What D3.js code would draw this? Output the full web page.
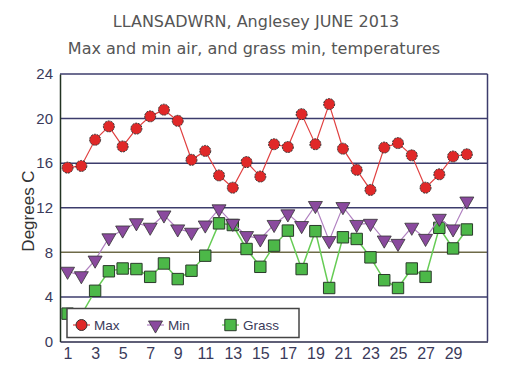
<!DOCTYPE html>
<html>
<head>
<meta charset="utf-8">
<script src="https://cdn.jsdelivr.net/npm/d3@7"></script>
<style>
  body { margin: 0; background: #fff; }
  svg { display: block; }
</style>
</head>
<body>
<svg id="chart" width="507" height="376"></svg>
<script>
// daily readings, June 2013
var days = d3.range(1, 31);
var maxTemp = [15.6, 15.75, 18.1, 19.3, 17.5, 19.1, 20.2, 20.8, 19.8, 16.3,
               17.1, 14.9, 13.8, 16.1, 14.8, 17.7, 17.45, 20.4, 17.7, 21.3,
               17.3, 15.4, 13.6, 17.4, 17.8, 16.7, 13.8, 15.0, 16.6, 16.8];
var minTemp = [6.3, 5.9, 7.3, 9.3, 10.0, 10.65, 10.25, 11.35, 10.1, 9.8,
               10.45, 11.9, 10.6, 9.5, 9.2, 10.5, 11.45, 10.4, 12.2, 9.05,
               12.1, 10.5, 10.6, 9.1, 8.8, 10.25, 9.25, 11.05, 10.1, 12.6];
var grassMin = [2.5, 2.4, 4.55, 6.3, 6.55, 6.5, 5.8, 7.0, 5.6, 6.35,
                7.7, 10.6, 10.45, 8.3, 6.7, 8.6, 9.95, 6.5, 9.9, 4.8,
                9.35, 9.2, 7.55, 5.5, 4.8, 6.55, 5.8, 10.2, 8.35, 10.05];
var yTicks = [0, 4, 8, 12, 16, 20, 24];
var xTicks = [1, 3, 5, 7, 9, 11, 13, 15, 17, 19, 21, 23, 25, 27, 29];

var svg = d3.select("#chart");

var plotLeft = 60, plotRight = 487.5, plotTop = 74, plotBottom = 341.5;

var x = d3.scaleLinear().domain([0.45, 31.5]).range([plotLeft, plotRight]);
var y = d3.scaleLinear().domain([0, 24]).range([plotBottom, plotTop]);

// titles
svg.append("text")
    .attr("x", 256)
    .attr("y", 27)
    .attr("text-anchor", "middle")
    .attr("font-family", "DejaVu Sans, Verdana, sans-serif")
    .attr("font-size", "16px")
    .attr("fill", "#555")
    .text("LLANSADWRN, Anglesey JUNE 2013");

svg.append("text")
    .attr("x", 254)
    .attr("y", 54)
    .attr("text-anchor", "middle")
    .attr("font-family", "DejaVu Sans, Verdana, sans-serif")
    .attr("font-size", "16px")
    .attr("fill", "#555")
    .text("Max and min air, and grass min, temperatures");

// gridlines
svg.append("g")
    .selectAll("line")
    .data(yTicks.filter(function (d) { return d > 0; }))
    .join("line")
    .attr("x1", plotLeft)
    .attr("x2", plotRight)
    .attr("y1", function (d) { return y(d); })
    .attr("y2", function (d) { return y(d); })
    .attr("stroke", function (d) { return d === 8 ? "#6e6a48" : "#3c3c6c"; })
    .attr("stroke-width", 1.5);

// y axis
var yAxis = svg.append("g")
    .attr("transform", "translate(" + plotLeft + ",0)")
    .call(d3.axisLeft(y).tickValues(yTicks).tickSize(0).tickPadding(7));
yAxis.select(".domain").attr("stroke", "#223322").attr("stroke-width", 1.5);
yAxis.selectAll("text")
    .attr("font-family", "Liberation Sans, Arial, sans-serif")
    .attr("font-size", "15px")
    .attr("fill", "#3a3a5a");

// x axis
var xAxis = svg.append("g")
    .attr("transform", "translate(0," + plotBottom + ")")
    .call(d3.axisBottom(x).tickValues(xTicks).tickSize(0).tickPadding(6));
xAxis.select(".domain").attr("stroke", "#2a2a4a").attr("stroke-width", 1.5);
xAxis.selectAll("text")
    .attr("font-family", "Liberation Sans, Arial, sans-serif")
    .attr("font-size", "16px")
    .attr("fill", "#3a3a5a");

// right border
svg.append("line")
    .attr("x1", plotRight).attr("x2", plotRight)
    .attr("y1", plotTop).attr("y2", plotBottom)
    .attr("stroke", "#3c3c6c")
    .attr("stroke-width", 1.5);

// axis title
svg.append("text")
    .attr("transform", "translate(34,211) rotate(-90)")
    .attr("text-anchor", "middle")
    .attr("font-family", "Liberation Sans, Arial, sans-serif")
    .attr("font-size", "17px")
    .attr("fill", "#333")
    .text("Degrees C");

function lineFor(vals) {
    return d3.line()
        .x(function (d, i) { return x(days[i]); })
        .y(function (d) { return y(d); })(vals);
}

var tri = d3.symbol().type(d3.symbolTriangle).size(85);
var sq = d3.symbol().type(d3.symbolSquare).size(130);

// grass
svg.append("path")
    .attr("d", lineFor(grassMin))
    .attr("fill", "none")
    .attr("stroke", "#66cc55")
    .attr("stroke-width", 1.5);
svg.append("g")
    .selectAll("path")
    .data(grassMin)
    .join("path")
    .attr("transform", function (d, i) { return "translate(" + x(days[i]) + "," + y(d) + ")"; })
    .attr("d", sq)
    .attr("fill", "#4cb848")
    .attr("stroke", "#2a3a2a")
    .attr("stroke-width", 1);

// min
svg.append("path")
    .attr("d", lineFor(minTemp))
    .attr("fill", "none")
    .attr("stroke", "#b080c0")
    .attr("stroke-width", 1.2);
svg.append("g")
    .selectAll("path")
    .data(minTemp)
    .join("path")
    .attr("transform", function (d, i) { return "translate(" + x(days[i]) + "," + y(d) + ") rotate(180)"; })
    .attr("d", tri)
    .attr("fill", "#8a4a9e")
    .attr("stroke", "#333")
    .attr("stroke-width", 0.8);

// max
svg.append("path")
    .attr("d", lineFor(maxTemp))
    .attr("fill", "none")
    .attr("stroke", "#e04040")
    .attr("stroke-width", 1.2);
svg.append("g")
    .selectAll("circle")
    .data(maxTemp)
    .join("circle")
    .attr("cx", function (d, i) { return x(days[i]); })
    .attr("cy", function (d) { return y(d); })
    .attr("r", 5.5)
    .attr("fill", "#e02828")
    .attr("stroke", "#333")
    .attr("stroke-width", 1)
    .attr("stroke-dasharray", "2,1");

// legend
var legend = svg.append("g");
legend.append("rect")
    .attr("x", 67).attr("y", 308.5)
    .attr("width", 232).attr("height", 29)
    .attr("fill", "#fff")
    .attr("stroke", "#444")
    .attr("stroke-width", 1.5);

var items = [
    { name: "Max", lx: 73, color: "#e04040" },
    { name: "Min", lx: 147, color: "#b080c0" },
    { name: "Grass", lx: 222, color: "#66cc55" }
];
var ly = 325;
items.forEach(function (it) {
    legend.append("line")
        .attr("x1", it.lx).attr("x2", it.lx + 17)
        .attr("y1", ly).attr("y2", ly)
        .attr("stroke", it.color)
        .attr("stroke-width", 1.2);
    var cx = it.lx + 8.5;
    if (it.name === "Max") {
        legend.append("circle")
            .attr("cx", cx).attr("cy", ly).attr("r", 5.5)
            .attr("fill", "#e02828").attr("stroke", "#333").attr("stroke-width", 1);
    } else if (it.name === "Min") {
        legend.append("path")
            .attr("transform", "translate(" + cx + "," + ly + ") rotate(180)")
            .attr("d", tri)
            .attr("fill", "#8a4a9e").attr("stroke", "#333").attr("stroke-width", 0.8);
    } else {
        legend.append("path")
            .attr("transform", "translate(" + cx + "," + ly + ")")
            .attr("d", sq)
            .attr("fill", "#4cb848").attr("stroke", "#2a3a2a").attr("stroke-width", 1);
    }
    legend.append("text")
        .attr("x", it.lx + 21)
        .attr("y", ly)
        .attr("dy", "0.35em")
        .attr("font-family", "Liberation Sans, Arial, sans-serif")
        .attr("font-size", "13.5px")
        .attr("fill", "#3a3a5a")
        .text(it.name);
});
</script>
</body>
</html>
